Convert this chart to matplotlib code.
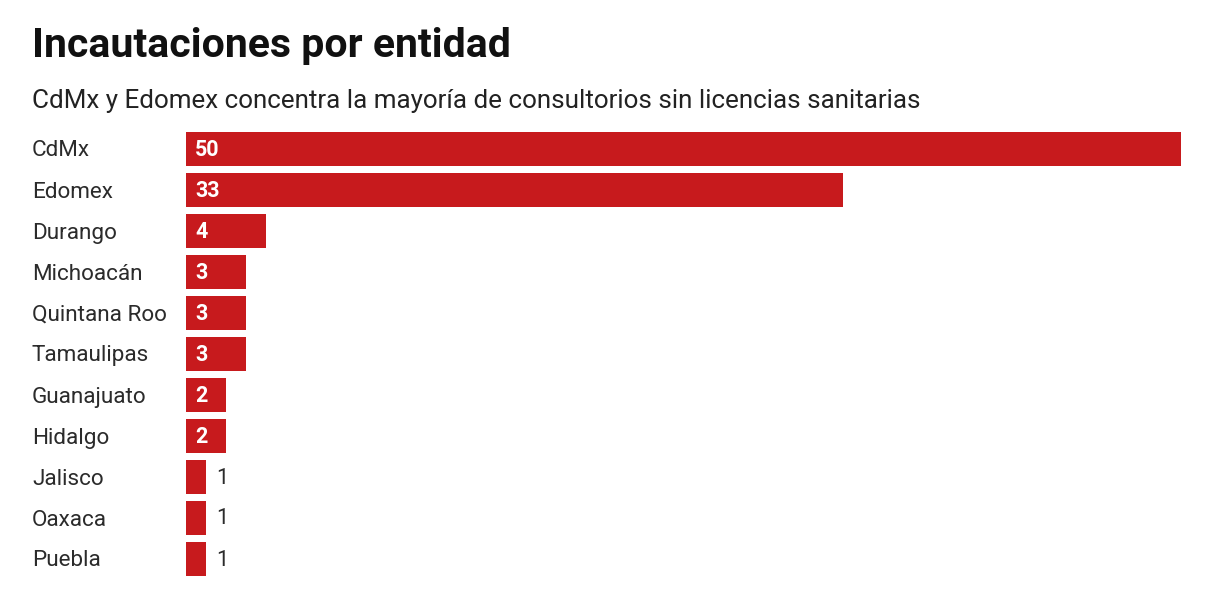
import matplotlib.pyplot as plt
from matplotlib.transforms import blended_transform_factory, offset_copy

entidades = ['CdMx', 'Edomex', 'Durango', 'Michoacán', 'Quintana Roo', 'Tamaulipas',
             'Guanajuato', 'Hidalgo', 'Jalisco', 'Oaxaca', 'Puebla']
valores = [50, 33, 4, 3, 3, 3, 2, 2, 1, 1, 1]

titulo = 'Incautaciones por entidad'
subtitulo = 'CdMx y Edomex concentra la mayoría de consultorios sin licencias sanitarias'

plt.rcParams['font.family'] = ['Roboto', 'DejaVu Sans']

W, H = 1210, 605
fig = plt.figure(figsize=(W / 100, H / 100), dpi=100)
fig.patch.set_facecolor('white')

# axes placed in pixel terms: bars from x=186 to 1181, rows centred 149..559
top, bottom = 128.5, 579.5
ax = fig.add_axes([186 / W, 1 - bottom / H, (1181 - 186) / W, (bottom - top) / H])
ax.set_xlim(0, 50)
ax.set_ylim(len(entidades) - 0.5, -0.5)
ax.axis('off')

pos = list(range(len(entidades)))
ax.barh(pos, valores, height=0.83, color='#c71a1d', edgecolor='none')

lbl_tr = offset_copy(blended_transform_factory(fig.transFigure, ax.transData),
                     fig=fig, x=0, y=-2, units='dots')
for i, (e, v) in enumerate(zip(entidades, valores)):
    ax.text(32 / W, i, e, transform=lbl_tr, ha='left', va='center',
            fontsize=16.2, color='#2b2b2b')
    if v >= 2:
        tr = offset_copy(ax.transData, fig=fig, x=9, y=-1, units='dots')
        ax.text(0, i, str(v), transform=tr, ha='left', va='center',
                fontsize=15.5, fontweight='bold', color='white')
    else:
        tr = offset_copy(ax.transData, fig=fig, x=10, y=-1, units='dots')
        ax.text(v, i, str(v), transform=tr, ha='left', va='center',
                fontsize=15.5, color='#2b2b2b')

fig.text(32 / W, 1 - 46 / H, titulo, ha='left', va='center',
         fontsize=29.5, fontweight='bold', color='#111111')
fig.text(32 / W, 1 - 101 / H, subtitulo, ha='left', va='center',
         fontsize=18.7, color='#222222')

fig.savefig('out.png', dpi=100, facecolor='white')
